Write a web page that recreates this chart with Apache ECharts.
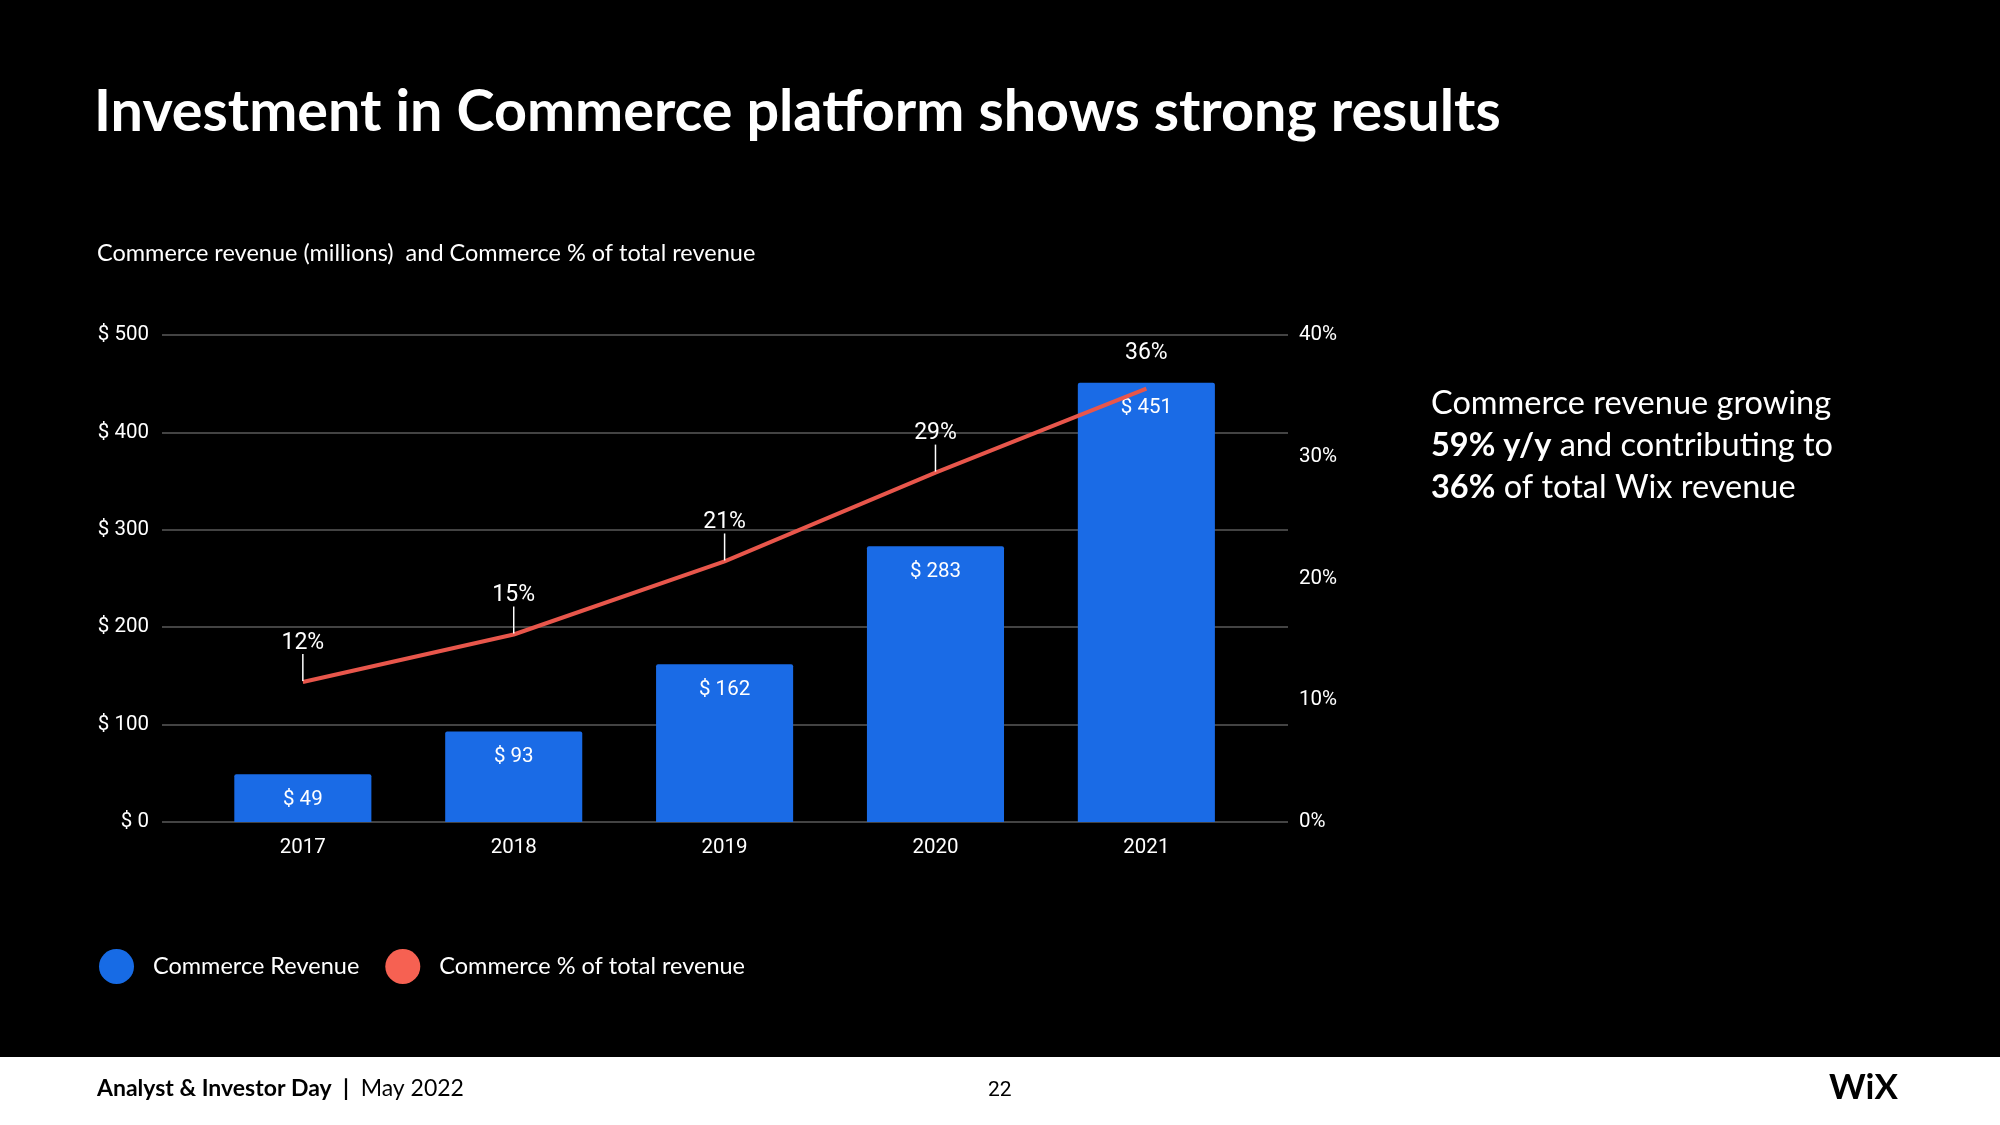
<!DOCTYPE html>
<html>
<head>
<meta charset="utf-8">
<script src="https://cdn.jsdelivr.net/npm/echarts@6/dist/echarts.min.js"></script>
<style>
html,body{margin:0;padding:0;background:#000;}
#chart{width:2000px;height:1125px;}
</style>
</head>
<body>
<div id="chart"></div>
<script>
// ---- data ----
const categories = ['2017', '2018', '2019', '2020', '2021'];
const revenue = [49, 93, 162, 283, 451];            // Commerce revenue, $M
const pctOfTotal = [11.5, 15.4, 21.4, 28.7, 35.6];   // Commerce % of total revenue
const leftTicks = { min: 0, max: 500, interval: 100 };
const rightTicks = { min: 0, max: 40, interval: 10 };

const SLIDE_FONT = 'Lato';
const CHART_FONT = 'Roboto';
const BLUE = '#1a6be6';
const RED = '#e8564b';

const chart = echarts.init(document.getElementById('chart'), null, { renderer: 'canvas' });

const option = {
  backgroundColor: '#000',
  animation: false,
  grid: [
    { left: 197.4, right: 748.2, top: 335, bottom: 303 },   // plotting band
    { left: 162, right: 712, top: 335, bottom: 303 }        // gridlines + axis labels
  ],
  xAxis: [
    {
      type: 'category', gridIndex: 0, data: categories,
      axisLine: { show: false }, axisTick: { show: false },
      axisLabel: { color: '#fff', fontFamily: CHART_FONT, fontSize: 20.5, margin: 15 }
    },
    {
      type: 'category', gridIndex: 1, data: categories, show: false
    }
  ],
  yAxis: [
    {
      type: 'value', gridIndex: 1, position: 'left',
      min: leftTicks.min, max: leftTicks.max, interval: leftTicks.interval,
      axisLine: { show: false }, axisTick: { show: false },
      axisLabel: { color: '#fff', fontFamily: CHART_FONT, fontSize: 20.5, margin: 13,
                   formatter: v => '$ ' + v },
      splitLine: { show: true, lineStyle: { color: '#5a5a5a', width: 1.5 } }
    },
    {
      type: 'value', gridIndex: 1, position: 'right',
      min: rightTicks.min, max: rightTicks.max, interval: rightTicks.interval,
      axisLine: { show: false }, axisTick: { show: false },
      axisLabel: { color: '#fff', fontFamily: CHART_FONT, fontSize: 20.5, margin: 11,
                   formatter: v => v + '%' },
      splitLine: { show: false }
    },
    {
      type: 'value', gridIndex: 0, min: leftTicks.min, max: leftTicks.max,
      show: false, splitLine: { show: false }
    },
    {
      type: 'value', gridIndex: 0, min: rightTicks.min, max: rightTicks.max,
      show: false, splitLine: { show: false }
    }
  ],
  legend: {
    data: [
      { name: 'Commerce Revenue', itemStyle: { color: '#176be5' } },
      { name: 'Commerce % of total revenue', itemStyle: { color: '#f66152' } }
    ],
    icon: 'circle',
    itemWidth: 35, itemHeight: 35,
    itemGap: 26,
    left: 94, top: 944,
    textStyle: { color: '#fff', fontFamily: SLIDE_FONT, fontSize: 23.5, padding: [0, 0, 0, 14] }
  },
  series: [
    {
      name: 'Commerce Revenue',
      type: 'bar',
      xAxisIndex: 0, yAxisIndex: 2,
      data: revenue,
      barWidth: '65%',
      itemStyle: { color: BLUE, borderRadius: [2, 2, 0, 0] },
      label: {
        show: true, position: 'insideTop', distance: 15,
        color: '#fff', fontFamily: CHART_FONT, fontSize: 20.5,
        formatter: p => '$ ' + p.value
      },
      z: 2
    },
    {
      name: 'Commerce % of total revenue',
      type: 'line',
      xAxisIndex: 0, yAxisIndex: 3,
      data: pctOfTotal,
      showSymbol: false,
      lineStyle: { color: RED, width: 4 },
      itemStyle: { color: RED },
      z: 3
    },
    {
      name: 'pctLabels',
      type: 'custom',
      xAxisIndex: 0, yAxisIndex: 3,
      data: pctOfTotal.map((v, i) => [i, v]),
      encode: { x: 0, y: 1 },
      z: 4,
      renderItem: function (params, api) {
        const pt = api.coord([api.value(0), api.value(1)]);
        const isLast = params.dataIndex === pctOfTotal.length - 1;
        const children = [];
        if (!isLast) {
          children.push({
            type: 'line',
            shape: { x1: pt[0], y1: pt[1] - 1, x2: pt[0], y2: pt[1] - 28 },
            style: { stroke: '#fff', lineWidth: 1.5 }
          });
        }
        children.push({
          type: 'text',
          style: {
            x: pt[0], y: pt[1] - (isLast ? 35 : 39),
            text: Math.round(api.value(1)) + '%',
            fill: '#fff', font: '23px ' + CHART_FONT,
            textAlign: 'center', textVerticalAlign: 'middle'
          }
        });
        return { type: 'group', children: children };
      }
    }
  ],
  graphic: [
    {
      type: 'text', left: 94, top: 83,
      style: { text: 'Investment in Commerce platform shows strong results',
               fill: '#fff', font: 'bold 57.5px ' + SLIDE_FONT }
    },
    {
      type: 'text', left: 97, top: 241,
      style: { text: 'Commerce revenue (millions)  and Commerce % of total revenue',
               fill: '#fff', font: '23.5px ' + SLIDE_FONT }
    },
    {
      type: 'text', left: 1431, top: 383,
      style: {
        text: 'Commerce revenue growing\n{b|59% y/y} and contributing to\n{b|36%} of total Wix revenue',
        fill: '#fff', font: '32.5px ' + SLIDE_FONT, lineHeight: 42,
        rich: { b: { fontWeight: 'bold', fontSize: 32.5, fontFamily: SLIDE_FONT, fill: '#fff', lineHeight: 42 } }
      }
    },
    {
      type: 'rect', left: 0, top: 1057,
      shape: { width: 2000, height: 68 },
      style: { fill: '#fff' }
    },
    {
      type: 'text', left: 97, top: 1077,
      style: {
        text: '{b|Analyst & Investor Day  |}  May 2022',
        fill: '#000', font: '23px ' + SLIDE_FONT,
        rich: { b: { fontWeight: 'bold', fontSize: 23, fontFamily: SLIDE_FONT, fill: '#000' } }
      }
    },
    {
      type: 'text', left: 988, top: 1080,
      style: { text: '22', fill: '#000', font: '21px ' + CHART_FONT }
    },
    {
      type: 'text', left: 1829, top: 1070,
      style: { text: 'WiX', fill: '#000', font: 'bold 35px ' + SLIDE_FONT }
    }
  ]
};

chart.setOption(option);
</script>
</body>
</html>
